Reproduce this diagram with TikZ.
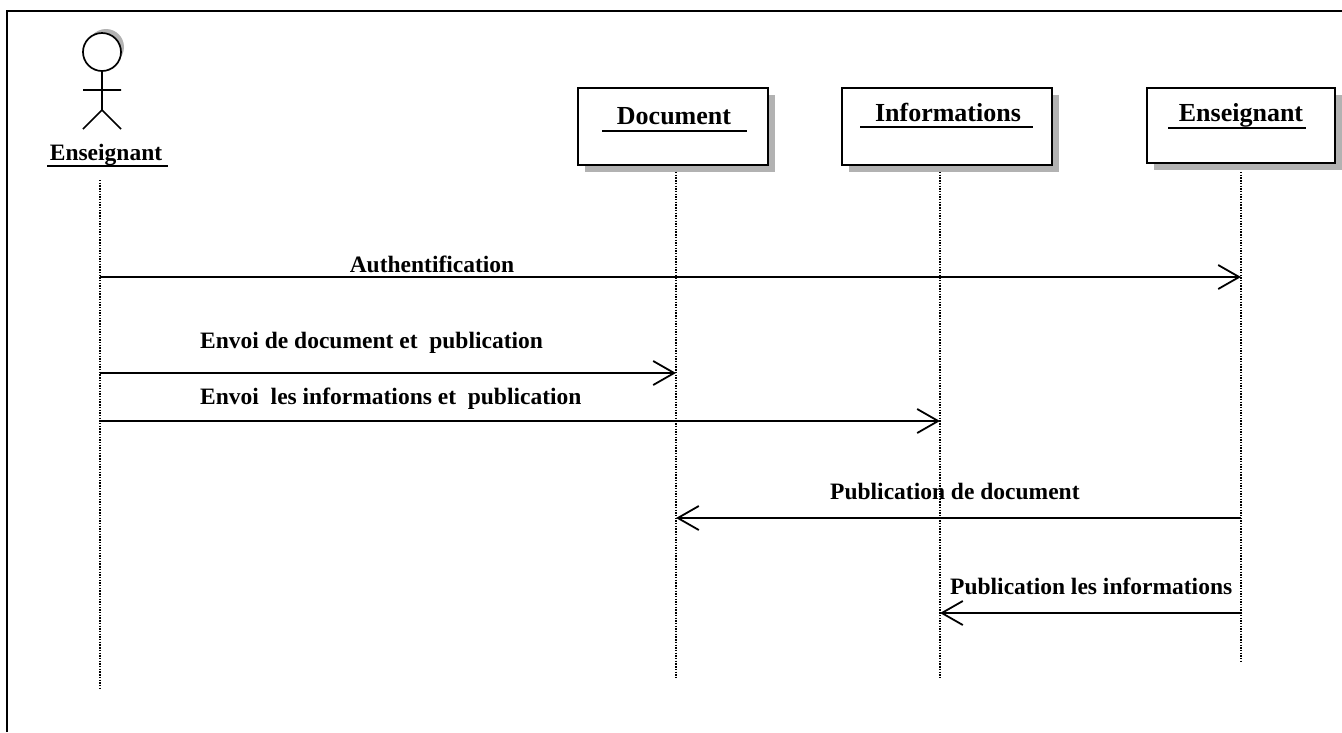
\documentclass[tikz,border=0pt]{standalone}
\usepackage{fontspec}
\setmainfont{Liberation Serif}
\usetikzlibrary{arrows.meta}
\begin{document}
\begin{tikzpicture}[x=1pt,y=-1pt,
  lifeline/.style={line width=1.4pt, dash pattern=on 1.4pt off 1.3pt},
  msg/.style={line width=1.6pt, -{Straight Barb[length=21pt,width=24pt,line width=1.8pt]}},
  msglbl/.style={font=\fontsize{23.5}{26}\selectfont\bfseries, inner sep=0pt},
  objbox/.style={draw, line width=1.8pt, fill=white, inner sep=0pt},
  objshadow/.style={fill=gray!60},
  objlbl/.style={font=\fontsize{26}{28}\selectfont\bfseries, inner sep=0pt},
  uline/.style={line width=1.6pt}]
\useasboundingbox (0,0) rectangle (1342,732);
\fill[white] (0,0) rectangle (1342,732);

% outer frame (open at right and bottom)
\draw[line width=2pt] (7,732) -- (7,11) -- (1342,11);

% actor
\fill[gray!60] (106,47) circle (18);
\draw[line width=1.7pt, fill=white] (102,52) circle (19);
\draw[line width=1.7pt] (102,71) -- (102,110) (83,90) -- (121,90)
  (83,129) -- (102,110) -- (121,129);
\node[msglbl, anchor=base] (actor) at (106,160) {Enseignant};
\draw[uline] (47,166) -- (168,166);
\coordinate (actorTop) at (100,180);
\coordinate (actorEnd) at (100,688);

% object boxes with drop shadows
\fill[objshadow] (585,95) rectangle (775,172);
\node[objbox, minimum width=190pt, minimum height=77pt] (doc) at (673,126.5) {};
\fill[objshadow] (849,95) rectangle (1059,172);
\node[objbox, minimum width=210pt, minimum height=77pt] (info) at (947,126.5) {};
\fill[objshadow] (1154,95) rectangle (1342,170);
\node[objbox, minimum width=188pt, minimum height=75pt] (ens) at (1241,125.5) {};

\node[objlbl, anchor=base] (docl) at (674,124) {Document};
\draw[uline] (602,131) -- (747,131);
\node[objlbl, anchor=base] (infol) at (948,121) {Informations};
\draw[uline] (860,127) -- (1033,127);
\node[objlbl, anchor=base] (ensl) at (1241,121) {Enseignant};
\draw[uline] (1168,128) -- (1306,128);

% lifelines
\coordinate (docTop) at (676,172);
\coordinate (docEnd) at (676,678);
\coordinate (infoTop) at (940,172);
\coordinate (infoEnd) at (940,678);
\coordinate (ensTop) at (1241,172);
\coordinate (ensEnd) at (1241,662);
\draw[lifeline] (actorTop) -- (actorEnd);
\draw[lifeline] (docTop) -- (docEnd);
\draw[lifeline] (infoTop) -- (infoEnd);
\draw[lifeline] (ensTop) -- (ensEnd);

% message anchor points on the lifelines
\coordinate (a1) at (100,277);  \coordinate (e1) at (1241,277);
\coordinate (a2) at (100,373);  \coordinate (d2) at (676,373);
\coordinate (a3) at (100,421);  \coordinate (i3) at (940,421);
\coordinate (e4) at (1241,518); \coordinate (d4) at (676,518);
\coordinate (e5) at (1241,613); \coordinate (i5) at (940,613);

% messages
\draw[msg] (a1) -- (e1);
\node[msglbl, anchor=base] (m1) at (432,272) {Authentification};
\draw[msg] (a2) -- (d2);
\node[msglbl, anchor=base west] (m2) at (200,348) {Envoi de document et\ \ publication};
\draw[msg] (a3) -- (i3);
\node[msglbl, anchor=base west] (m3) at (200,404) {Envoi\ \ les informations et\ \ publication};
\draw[msg] (e4) -- (d4);
\node[msglbl, anchor=base west] (m4) at (830,499) {Publication de document};
\draw[msg] (e5) -- (i5);
\node[msglbl, anchor=base west] (m5) at (950,594) {Publication les informations};
\end{tikzpicture}
\end{document}
